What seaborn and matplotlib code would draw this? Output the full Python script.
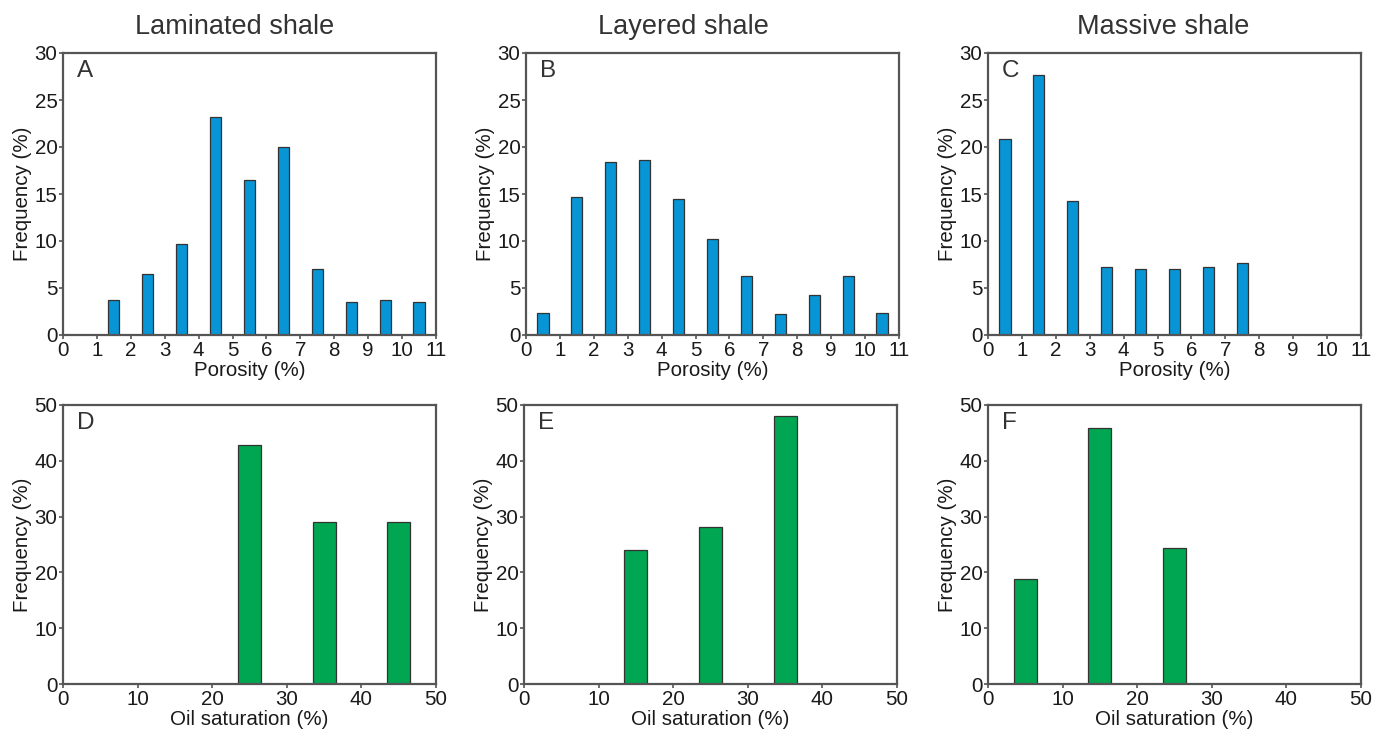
import matplotlib
matplotlib.use("Agg")
import matplotlib.pyplot as plt
import seaborn as sns
import pandas as pd

sns.set_theme(style="white")
plt.rcParams['font.family'] = ['Liberation Sans', 'DejaVu Sans']

titles = ["Laminated shale", "Layered shale", "Massive shale"]
letters_top = ["A", "B", "C"]
letters_bot = ["D", "E", "F"]

# Porosity bins (centres, %)
por_A_x = [1.5, 2.5, 3.5, 4.5, 5.5, 6.5, 7.5, 8.5, 9.5, 10.5]
por_A_y = [3.7, 6.5, 9.7, 23.2, 16.5, 20.0, 7.0, 3.5, 3.7, 3.5]
por_B_x = [0.5, 1.5, 2.5, 3.5, 4.5, 5.5, 6.5, 7.5, 8.5, 9.5, 10.5]
por_B_y = [2.3, 14.7, 18.4, 18.6, 14.5, 10.2, 6.3, 2.2, 4.3, 6.3, 2.3]
por_C_x = [0.5, 1.5, 2.5, 3.5, 4.5, 5.5, 6.5, 7.5]
por_C_y = [20.8, 27.7, 14.3, 7.2, 7.0, 7.0, 7.2, 7.7]

# Oil saturation bins (centres, %)
oil_D_x = [25, 35, 45]
oil_D_y = [42.9, 29.1, 29.1]
oil_E_x = [15, 25, 35]
oil_E_y = [24.1, 28.2, 48.0]
oil_F_x = [5, 15, 25]
oil_F_y = [18.8, 45.9, 24.3]

blue = "#0795D6"
green = "#00A651"
spine_c = "#555555"
text_c = "#1a1a1a"

fig = plt.figure(figsize=(13.86, 7.33), dpi=100)

top_lefts = [63, 526, 988]
bot_lefts = [63, 524, 988]
title_x = [0.461, 0.422, 0.469]
W, H = 1386, 733

top_data = [(por_A_x, por_A_y), (por_B_x, por_B_y), (por_C_x, por_C_y)]
bot_data = [(oil_D_x, oil_D_y), (oil_E_x, oil_E_y), (oil_F_x, oil_F_y)]

def style(ax, xmax, xstep, ymax, ystep, xlabel, letter):
    ax.set_xlim(0, xmax)
    ax.set_ylim(0, ymax)
    ax.set_xticks(range(0, xmax + 1, xstep))
    ax.set_yticks(range(0, ymax + 1, ystep))
    for s in ax.spines.values():
        s.set_color(spine_c)
        s.set_linewidth(1.6)
        s.set_visible(True)
    ax.tick_params(axis='both', direction='out', length=3, width=1.2,
                   color=spine_c, labelsize=14.8, pad=1, labelcolor=text_c,
                   bottom=True, left=True, top=False, right=False)
    ax.set_xlabel(xlabel, fontsize=14.8, labelpad=1, color=text_c)
    ax.set_ylabel("Frequency (%)", fontsize=14.8, labelpad=2, color=text_c)
    ax.text(0.038, 0.975, letter, transform=ax.transAxes, fontsize=17.5,
            va='top', ha='left', color="#333333")

for i in range(3):
    ax = fig.add_axes([top_lefts[i] / W, (H - 335) / H, 373 / W, 282 / H])
    x, y = top_data[i]
    df = pd.DataFrame({"x": x, "y": y})
    sns.barplot(data=df, x="x", y="y", native_scale=True, width=0.33,
                color=blue, edgecolor="#333333", linewidth=0.9,
                saturation=1, ax=ax, errorbar=None)
    style(ax, 11, 1, 30, 5, "Porosity (%)", letters_top[i])
    ax.set_title(titles[i], fontsize=19.5, pad=14, color="#333333",
                 x=title_x[i])

for i in range(3):
    ax = fig.add_axes([bot_lefts[i] / W, (H - 684) / H, 373 / W, 279 / H])
    x, y = bot_data[i]
    df = pd.DataFrame({"x": x, "y": y})
    sns.barplot(data=df, x="x", y="y", native_scale=True, width=0.31,
                color=green, edgecolor="#333333", linewidth=0.9,
                saturation=1, ax=ax, errorbar=None)
    style(ax, 50, 10, 50, 10, "Oil saturation (%)", letters_bot[i])

fig.savefig("out.png", dpi=100, facecolor="white")
